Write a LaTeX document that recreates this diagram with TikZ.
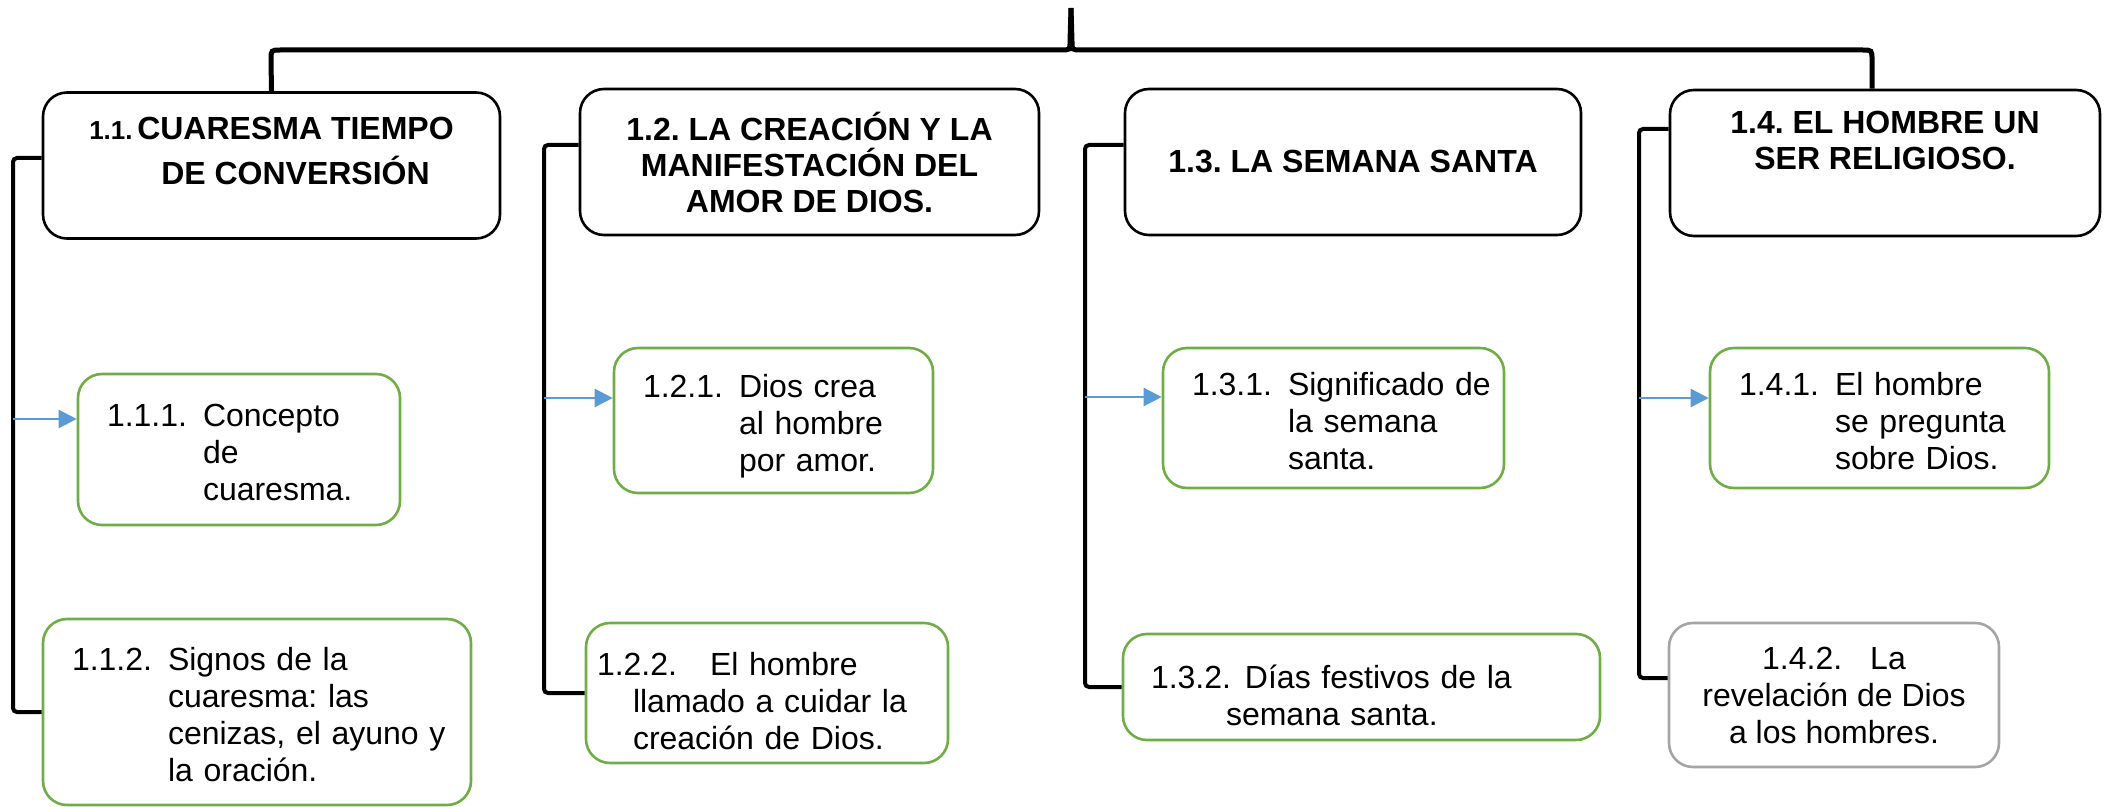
\documentclass[tikz,border=0pt]{standalone}
\usepackage{fontspec}
\setmainfont{Liberation Sans}
\usetikzlibrary{positioning,arrows.meta}
\definecolor{subgreen}{HTML}{70AD47}
\definecolor{subgray}{HTML}{A5A5A5}
\definecolor{linkblue}{HTML}{5B9BD5}
\newcommand{\numitem}[3][48pt]{\makebox[#1][l]{#2}\begin{tabular}[t]{@{}l@{}}#3\end{tabular}}
\frenchspacing

\begin{document}
\begin{tikzpicture}[x=0.5pt,y=-0.5pt]
  \tikzstyle{topic}=[draw, line width=1.3pt, rounded corners=12pt, align=center,
    font=\bfseries\fontsize{16}{18}\selectfont, minimum height=73pt]
  \tikzstyle{sub}=[draw=subgreen, line width=1.3pt, rounded corners=12pt, align=left,
    font=\fontsize{16}{18.5}\selectfont, inner xsep=14.5pt,
    execute at begin node={\rule{0pt}{20pt}}]
  \tikzstyle{bar}=[line width=2pt, rounded corners=2pt]
  \tikzstyle{link}=[linkblue, line width=1.2pt, -{Triangle[length=9pt,width=9pt]}]
  \useasboundingbox (0,0) rectangle (2109,807);

  \node[topic, minimum width=228.5pt] (T_1) at (271.5,165.5)
    {\makebox[24pt][l]{\fontsize{13}{15}\selectfont 1.1.}\begin{tabular}[t]{@{}c@{}}CUARESMA TIEMPO\\[3pt]DE CONVERSIÓN\rule[-16pt]{0pt}{16pt}\end{tabular}};
  \node[topic, minimum width=229.5pt] (T_2) at (809.5,162)
    {1.2. LA CREACIÓN Y LA\\MANIFESTACIÓN DEL\\AMOR DE DIOS.};
  \node[topic, minimum width=228pt] (T_3) at (1353,162) {1.3. LA SEMANA SANTA};
  \node[topic, minimum width=215pt] (T_4) at (1885,163)
    {1.4. EL HOMBRE UN\\SER RELIGIOSO.\rule[-23pt]{0pt}{23pt}};

  \node[sub, text width=132pt, minimum width=161pt, minimum height=75.5pt] (S_11) at (239,449.5)
    {\numitem{1.1.1.}{Concepto\\de\\cuaresma.}};
  \node[sub, text width=185pt, minimum width=214pt, minimum height=93pt] (S_12) at (257,712)
    {\numitem{1.1.2.}{Signos de la\\cuaresma: las\\cenizas, el ayuno y\\la oración.}};
  \node[sub, text width=130.5pt, minimum width=159.5pt, minimum height=72.5pt] (S_21) at (773.5,420.5)
    {\numitem{1.2.1.}{Dios crea\\al hombre\\por amor.}};
  \node[sub, inner xsep=5.5pt, text width=170pt, minimum width=181pt, minimum height=70pt] (S_22) at (767,693)
    {\makebox[56.5pt][l]{1.2.2.}El hombre\\\hspace*{18pt}llamado a cuidar la\\\hspace*{18pt}creación de Dios.};
  \node[sub, text width=141.5pt, minimum width=170.5pt, minimum height=70pt] (S_31) at (1333.5,418)
    {\numitem{1.3.1.}{Significado de\\la semana\\santa.}};
  \node[sub, inner xsep=14pt, text width=210.5pt, minimum width=238.5pt, minimum height=53pt] (S_32) at (1361.5,687)
    {\makebox[47pt][l]{1.3.2.}Días festivos de la\\\hspace*{37.5pt}semana santa.};
  \node[sub, text width=140.5pt, minimum width=169.5pt, minimum height=70pt] (S_41) at (1879.5,418)
    {\numitem{1.4.1.}{El hombre\\se pregunta\\sobre Dios.}};
  \node[sub, draw=subgray, align=center, minimum width=165pt, minimum height=72pt] (S_42) at (1834,695)
    {1.4.2.\hspace{14pt}La\\revelación de Dios\\a los hombres.};

  % brace over the four topics
  \coordinate (B_top) at (1071,8);
  \draw[line width=2.5pt] (T_1.north) -- (271,60) .. controls (271,50) .. (281,50) -- (1061,50)
    .. controls (1070,50) .. (1070,42) -- (B_top);
  \draw[line width=2.5pt] (B_top) -- (1072,42) .. controls (1072,50) .. (1081,50) -- (1862,50)
    .. controls (1872,50) .. (1872,60) -- (T_4.north -| 1872,0);

  % side bars
  \coordinate (B_1) at (13,158);
  \coordinate (B_2) at (544,145);
  \coordinate (B_3) at (1085,145);
  \coordinate (B_4) at (1639,129);
  \coordinate (E_4) at ([yshift=8.5pt]S_42.west);
  \draw[bar] (T_1.west |- B_1) -- (B_1) -- (B_1 |- S_12.west) -- (S_12.west);
  \draw[bar] (T_2.west |- B_2) -- (B_2) -- (B_2 |- S_22.west) -- (S_22.west);
  \draw[bar] (T_3.west |- B_3) -- (B_3) -- (B_3 |- S_32.west) -- (S_32.west);
  \draw[bar] (T_4.west |- B_4) -- (B_4) -- (B_4 |- E_4) -- (E_4);

  % arrows to first subtopics
  \coordinate (A_1) at (13,419);
  \coordinate (A_2) at (544,398);
  \coordinate (A_3) at (1085,397);
  \coordinate (A_4) at (1639,398);
  \draw[link] (A_1) -- (A_1 -| S_11.west);
  \draw[link] (A_2) -- (A_2 -| S_21.west);
  \draw[link] (A_3) -- (A_3 -| S_31.west);
  \draw[link] (A_4) -- (A_4 -| S_41.west);
\end{tikzpicture}
\end{document}
